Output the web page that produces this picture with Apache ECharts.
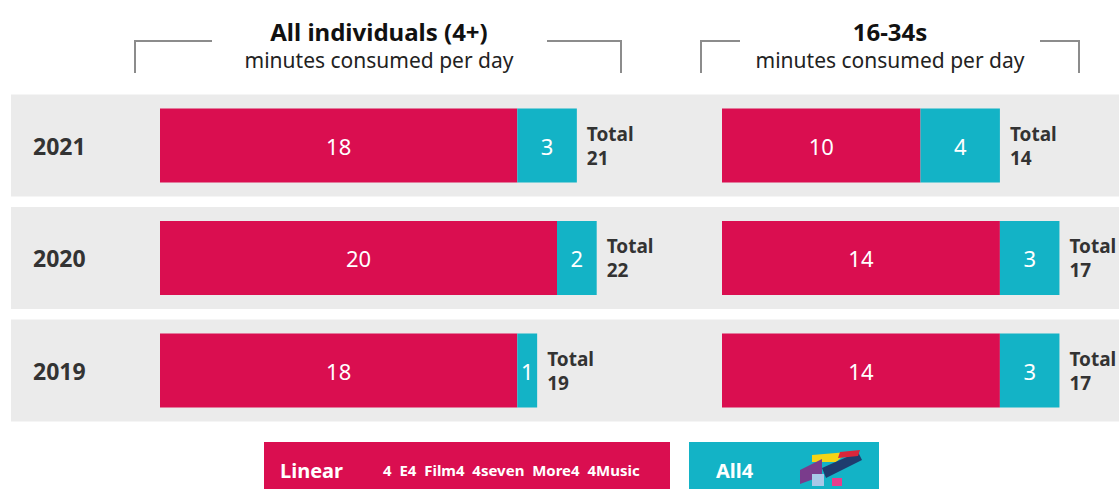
<!DOCTYPE html>
<html><head><meta charset="utf-8">
<script src="https://cdn.jsdelivr.net/npm/echarts@6/dist/echarts.min.js"></script>
<style>html,body{margin:0;padding:0;background:#fff}#c{width:1119px;height:489px}</style>
</head><body><div id="c"></div>
<script>
// ---- data ----
const years = ['2019', '2020', '2021'];
const allLinear = [18, 20, 18];
const allAll4 = [1, 2, 3];
const youngLinear = [14, 14, 10];
const youngAll4 = [3, 3, 4];
const panelTitles = ['All individuals (4+)', '16-34s'];
const panelSubtitle = 'minutes consumed per day';
const legendNames = ['Linear', 'All4'];
const linearChannels = ['4', 'E4', 'Film4', '4seven', 'More4', '4Music'];

// ---- style ----
const PINK = '#DA0E50', TEAL = '#13B3C6', GREY = '#EBEBEB', TXT = '#333333';
const FONT = '"Noto Sans", "Open Sans", sans-serif';
const PX = 19.85;           // pixels per minute
const TOP = 89.25, H = 337.5;

const totals = (a, b) => a.map((v, i) => v + b[i]);
const allTotal = totals(allLinear, allAll4);
const youngTotal = totals(youngLinear, youngAll4);

function valueLabel() {
  return { show: true, position: 'inside', color: '#fff', fontSize: 22, fontFamily: FONT };
}
function barSeries(name, data, axis, stack, color) {
  return {
    type: 'bar', name, data, xAxisIndex: axis, yAxisIndex: axis, stack,
    barWidth: 74, itemStyle: { color }, label: valueLabel(), silent: true
  };
}
function totalSeries(tot, axis) {
  return {
    type: 'scatter', xAxisIndex: axis, yAxisIndex: axis, symbolSize: 0, silent: true,
    itemStyle: { opacity: 1 },
    data: tot.map((t, i) => [t, years[i]]),
    label: {
      show: true, position: 'right', distance: 10, align: 'left', opacity: 1,
      formatter: p => 'Total\n' + p.value[0],
      color: TXT, fontSize: 19, fontWeight: 'bold', lineHeight: 24, fontFamily: FONT
    }
  };
}
const hiddenX = (max) => ({ type: 'value', min: 0, max, show: false });
const yCat = (gi, show) => ({
  type: 'category', data: years, gridIndex: gi,
  axisLine: { show: false }, axisTick: { show: false }, splitLine: { show: false },
  axisLabel: show ? { show: true, margin: 127, align: 'left', color: TXT, fontSize: 23,
    fontWeight: 'bold', fontFamily: FONT } : { show: false }
});

function header(cx, title, bx1, bx2, bx3, bx4) {
  const line = (pts) => ({ type: 'polyline', shape: { points: pts },
    style: { stroke: '#8c8c8c', lineWidth: 2, fill: null }, silent: true });
  return [
    { type: 'text', x: cx, y: 31, style: { text: title, textAlign: 'center', textVerticalAlign: 'middle',
      font: 'bold 24px ' + FONT, fill: '#111' } },
    { type: 'text', x: cx, y: 60, style: { text: panelSubtitle, textAlign: 'center', textVerticalAlign: 'middle',
      font: '21px ' + FONT, fill: '#222' } },
    line([[bx1, 73], [bx1, 41], [bx2, 41]]),
    line([[bx3, 41], [bx4, 41], [bx4, 73]])
  ];
}

const graphics = [
  ...header(379, panelTitles[0], 135, 212, 547, 621),
  ...header(890, panelTitles[1], 701, 740, 1040, 1079),
  // legend: Linear
  { type: 'rect', shape: { x: 264, y: 442, width: 406, height: 50 }, style: { fill: PINK }, silent: true },
  { type: 'text', x: 280, y: 470, style: { text: legendNames[0], textVerticalAlign: 'middle',
    font: 'bold 20px ' + FONT, fill: '#fff' } },
  { type: 'text', x: 383, y: 470, style: { text: linearChannels.join('  '), textVerticalAlign: 'middle',
    font: 'bold 15px ' + FONT, fill: '#fff' } },
  // legend: All4
  { type: 'rect', shape: { x: 689, y: 442, width: 190, height: 50 }, style: { fill: TEAL }, silent: true },
  { type: 'text', x: 716, y: 470, style: { text: legendNames[1], textVerticalAlign: 'middle',
    font: 'bold 20px ' + FONT, fill: '#fff' } },
  // small All4 emblem
  { type: 'polygon', shape: { points: [[812, 455], [848, 452], [836, 462], [812, 462]] }, style: { fill: '#F5D416' }, silent: true },
  { type: 'polygon', shape: { points: [[800, 470], [822, 459], [822, 476], [800, 484]] }, style: { fill: '#7A3C8C' }, silent: true },
  { type: 'polygon', shape: { points: [[822, 468], [858, 452], [862, 460], [826, 478]] }, style: { fill: '#1F3C6E' }, silent: true },
  { type: 'polygon', shape: { points: [[840, 452], [860, 450], [858, 456], [838, 458]] }, style: { fill: '#D9263B' }, silent: true },
  { type: 'rect', shape: { x: 812, y: 474, width: 12, height: 12 }, style: { fill: '#A8C8E8' }, silent: true },
  { type: 'rect', shape: { x: 832, y: 478, width: 10, height: 8 }, style: { fill: '#E83E8C' }, silent: true }
];

const chart = echarts.init(document.getElementById('c'), null, { renderer: 'svg' });
chart.setOption({
  animation: false,
  backgroundColor: '#fff',
  grid: [
    { left: 11, right: 0, top: TOP, height: H },
    { left: 160, top: TOP, height: H, width: 24 * PX },
    { left: 722, top: TOP, height: H, width: 20 * PX }
  ],
  xAxis: [
    Object.assign(hiddenX(1), { gridIndex: 0 }),
    Object.assign(hiddenX(24), { gridIndex: 1 }),
    Object.assign(hiddenX(20), { gridIndex: 2 })
  ],
  yAxis: [yCat(0, false), yCat(1, true), yCat(2, false)],
  series: [
    { type: 'bar', data: years.map(() => 1), xAxisIndex: 0, yAxisIndex: 0, barWidth: 102,
      itemStyle: { color: GREY }, silent: true, z: 0 },
    barSeries('Linear', allLinear, 1, 'all', PINK),
    barSeries('All4', allAll4, 1, 'all', TEAL),
    totalSeries(allTotal, 1),
    barSeries('Linear', youngLinear, 2, 'young', PINK),
    barSeries('All4', youngAll4, 2, 'young', TEAL),
    totalSeries(youngTotal, 2)
  ],
  graphic: graphics
});
</script>
</body></html>
